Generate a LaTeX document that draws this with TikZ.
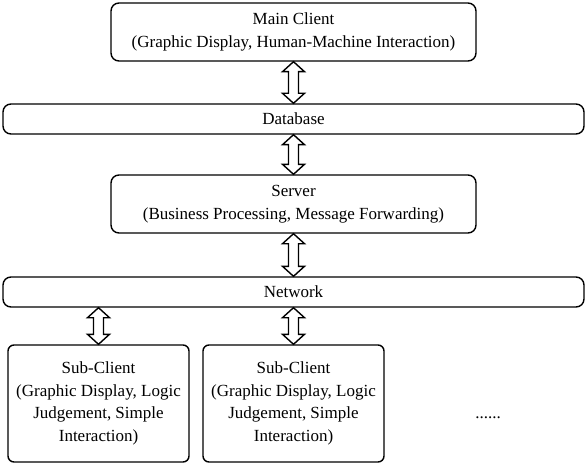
\documentclass[tikz,border=0pt]{standalone}
\usepackage{fontspec}
\setmainfont{Liberation Serif}
\usetikzlibrary{calc}
\tikzset{
  txt/.style={font=\fontsize{17}{22.5}\selectfont},
  box/.style={draw, line width=1.4pt, rounded corners=8pt, align=center, inner sep=0pt, txt},
  arr/.style={draw, line width=1.4pt, fill=white, line join=miter},
}
\newcommand\hollowarrow[2]{%
  \path[arr] let \p1=(#1), \p2=(#2) in
    (\x1,\y1) -- (\x1+11pt,\y1-10pt) -- (\x1+5pt,\y1-10pt) -- (\x1+5pt,\y2+10pt)
    -- (\x1+11pt,\y2+10pt) -- (\x1,\y2) -- (\x1-11pt,\y2+10pt) -- (\x1-5pt,\y2+10pt)
    -- (\x1-5pt,\y1-10pt) -- (\x1-11pt,\y1-10pt) -- cycle;}
\begin{document}
\begin{tikzpicture}[x=1pt,y=-1pt]
\useasboundingbox (0,0) rectangle (588,465);
\node[box, minimum width=365pt, minimum height=58pt] (main) at (293.5,32)
  {Main Client\\(Graphic Display, Human-Machine Interaction)};
\node[box, minimum width=581pt, minimum height=30pt] (db) at (293.5,119) {Database};
\node[box, minimum width=365pt, minimum height=58pt] (srv) at (293.5,204)
  {Server\\(Business Processing, Message Forwarding)};
\node[box, minimum width=581pt, minimum height=30pt] (net) at (293.5,292) {Network};
\node[box, minimum width=181pt, minimum height=117pt, rounded corners=6pt] (sc1) at (98.5,403.5)
  {Sub-Client\\(Graphic Display, Logic\\Judgement, Simple\\Interaction)};
\node[box, minimum width=181pt, minimum height=117pt, rounded corners=6pt] (sc2) at (293.5,403.5)
  {Sub-Client\\(Graphic Display, Logic\\Judgement, Simple\\Interaction)};
\node[txt] (dots) at (488,418) {......};
\hollowarrow{main.south}{db.north}
\hollowarrow{db.south}{srv.north}
\hollowarrow{srv.south}{net.north}
\hollowarrow{net.south -| sc1.north}{sc1.north}
\hollowarrow{net.south -| sc2.north}{sc2.north}
\end{tikzpicture}
\end{document}
